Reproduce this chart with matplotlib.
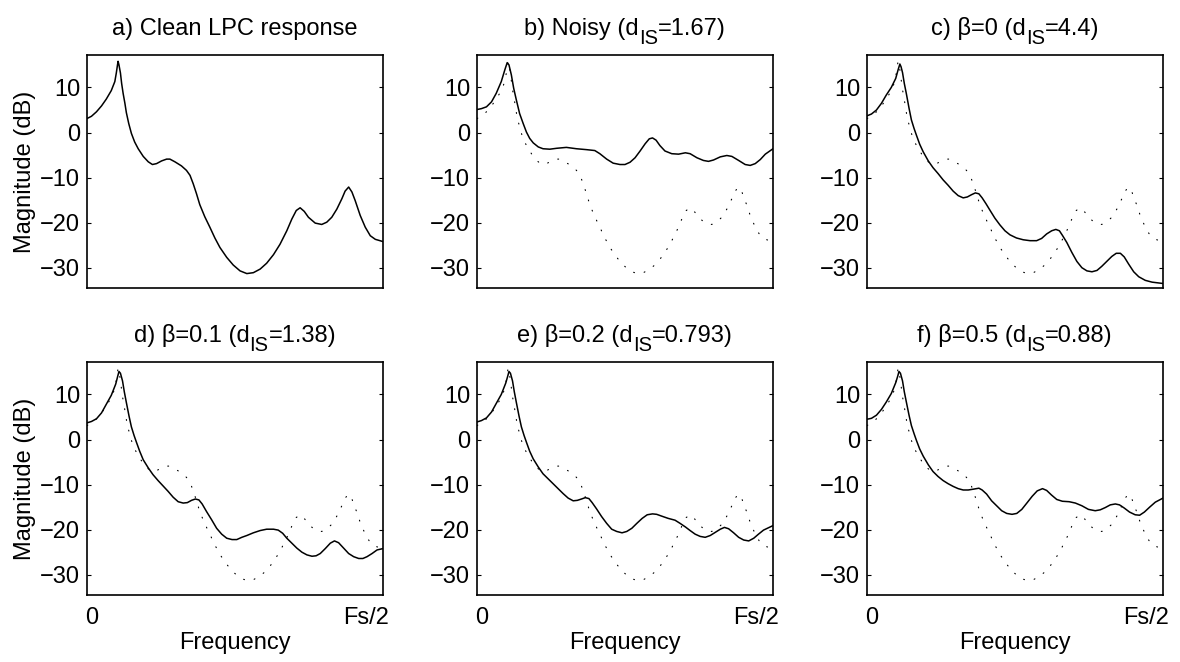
import matplotlib
matplotlib.use("Agg")
import matplotlib.pyplot as plt
from matplotlib.transforms import offset_copy

plt.rcParams['font.family'] = ['Liberation Sans', 'DejaVu Sans']
plt.rcParams['axes.unicode_minus'] = True

# Frequency axis is normalised: 0 = DC, 1 = Fs/2. Magnitudes in dB.
freq_clean = [0, .015, .032, .049, .065, .082, .094, .099, .103, .105, .108, .113, .117, .122,
              .128, .133, .141, .150, .161, .173, .190, .207, .221, .235, .252, .269, .280,
              .297, .319, .336, .348, .359, .370, .381, .398, .415, .432, .449, .472, .494,
              .517, .540, .562, .585, .607, .630, .652, .675, .692, .707, .720, .734, .748,
              .771, .793, .810, .827, .844, .861, .872, .884, .895, .906, .923, .940, .957,
              .974, 1.0]
mag_clean = [3.1, 3.6, 4.6, 5.9, 7.4, 9.3, 11.3, 13.2, 15.0, 15.8, 15.0, 13.2, 10.9, 8.7,
             6.5, 4.4, 2.0, -0.2, -2.1, -3.6, -5.3, -6.5, -7.1, -6.9, -6.3, -5.9, -5.9,
             -6.5, -7.4, -8.4, -9.5, -11.4, -13.6, -16.0, -18.7, -21.0, -23.4, -25.5, -27.7,
             -29.4, -30.7, -31.3, -31.1, -30.3, -29.0, -27.1, -24.8, -21.8, -19.2, -17.3,
             -16.7, -17.5, -18.8, -20.1, -20.4, -19.9, -18.8, -17.0, -14.7, -13.0, -12.1,
             -13.2, -15.1, -18.4, -21.0, -22.9, -23.7, -24.2]

freq_noisy = [0, .015, .032, .049, .065, .082, .094, .102, .108, .116, .124, .133, .144, .156,
              .167, .178, .190, .207, .223, .246, .269, .302, .336, .370, .398, .415, .438,
              .460, .483, .500, .517, .534, .551, .568, .582, .593, .605, .618, .635, .658,
              .681, .704, .720, .743, .765, .782, .799, .822, .844, .861, .884, .906, .923,
              .940, .957, .974, 1.0]
mag_noisy = [5.1, 5.3, 5.7, 6.8, 8.7, 11.3, 13.9, 15.5, 15.0, 12.8, 9.8, 7.2, 4.2, 2.0,
             0.1, -1.3, -2.3, -3.2, -3.6, -3.7, -3.5, -3.3, -3.6, -3.8, -4.0, -4.7, -5.9,
             -6.8, -7.1, -7.1, -6.6, -5.6, -4.1, -2.5, -1.4, -1.2, -1.7, -2.9, -4.1, -4.7,
             -4.8, -4.5, -4.7, -5.6, -6.2, -6.4, -6.1, -5.4, -5.1, -5.3, -6.2, -7.1, -7.3,
             -6.9, -6.0, -4.8, -3.6]

freq_b00 = [0, .015, .032, .049, .065, .082, .097, .105, .111, .115, .120, .126, .133, .142,
            .150, .159, .167, .178, .190, .207, .223, .240, .257, .274, .291, .308, .325,
            .339, .353, .366, .378, .389, .402, .415, .432, .449, .466, .483, .505, .528,
            .551, .573, .590, .607, .624, .638, .650, .661, .675, .692, .709, .726, .743,
            .760, .777, .793, .810, .827, .842, .856, .869, .884, .901, .918, .940, .963, 1.0]
mag_b00 = [3.7, 4.1, 5.0, 6.5, 8.3, 10.0, 12.0, 13.9, 15.2, 14.6, 13.3, 10.9, 8.6, 5.4,
           2.8, 0.9, -0.6, -2.6, -4.3, -6.3, -7.8, -9.1, -10.5, -11.7, -13.0, -14.0, -14.5,
           -14.3, -13.8, -13.4, -13.6, -14.5, -15.8, -17.2, -19.0, -20.5, -21.8, -22.7,
           -23.4, -23.8, -24.0, -24.0, -23.5, -22.5, -21.8, -21.5, -21.8, -22.9, -24.4,
           -26.6, -28.6, -30.0, -30.7, -30.9, -30.6, -29.7, -28.6, -27.5, -26.8, -26.8,
           -27.6, -29.2, -30.9, -32.0, -32.8, -33.2, -33.5]

freq_b01 = [0, .015, .032, .049, .065, .082, .097, .104, .108, .113, .120, .126, .133, .142,
            .150, .159, .167, .178, .190, .207, .223, .240, .257, .274, .291, .308, .325,
            .339, .353, .366, .378, .389, .404, .421, .438, .455, .472, .490, .506, .523,
            .540, .562, .585, .607, .630, .646, .661, .675, .692, .709, .726, .743, .760,
            .774, .788, .805, .822, .836, .850, .867, .884, .901, .918, .932, .946, .963,
            .980, 1.0]
mag_b01 = [3.7, 4.0, 4.6, 5.9, 7.8, 9.8, 12.3, 14.1, 15.1, 14.7, 13.0, 10.6, 8.2, 5.2,
           2.8, 0.9, -0.6, -2.6, -4.5, -6.3, -7.8, -9.1, -10.3, -11.5, -12.8, -13.8, -14.1,
           -14.0, -13.5, -13.2, -13.4, -14.3, -16.0, -17.8, -19.7, -21.0, -21.9, -22.2,
           -22.2, -21.7, -21.3, -20.7, -20.2, -19.9, -19.9, -20.1, -20.8, -21.9, -23.0,
           -24.1, -25.0, -25.6, -25.9, -25.8, -25.3, -24.2, -23.0, -22.5, -22.9, -24.1,
           -25.3, -26.0, -26.4, -26.4, -26.0, -25.3, -24.5, -24.2]

freq_b02 = [0, .015, .032, .049, .065, .082, .097, .104, .108, .113, .120, .126, .133, .142,
            .150, .159, .167, .178, .190, .207, .223, .240, .257, .274, .291, .308, .325,
            .339, .353, .366, .378, .389, .404, .421, .438, .455, .472, .490, .506, .523,
            .540, .558, .575, .593, .607, .624, .646, .669, .686, .704, .720, .737, .754,
            .771, .788, .805, .822, .836, .850, .867, .884, .901, .918, .935, .951, .968, 1.0]
mag_b02 = [3.9, 4.2, 4.8, 6.1, 8.0, 10.0, 12.5, 14.1, 15.1, 14.7, 13.0, 10.6, 8.2, 5.2,
           2.8, 0.9, -0.6, -2.6, -4.3, -6.1, -7.6, -8.7, -9.8, -10.9, -12.0, -13.0, -13.6,
           -13.5, -13.2, -12.9, -13.1, -14.0, -15.4, -17.1, -18.6, -19.9, -20.4, -20.7,
           -20.4, -19.7, -18.6, -17.5, -16.7, -16.5, -16.6, -17.0, -17.5, -17.9, -18.6,
           -19.4, -20.2, -21.0, -21.5, -21.7, -21.3, -20.6, -19.9, -19.5, -19.8, -20.7,
           -21.7, -22.3, -22.5, -21.9, -21.0, -20.1, -19.1]

freq_b05 = [0, .015, .032, .049, .065, .082, .097, .104, .108, .113, .120, .126, .133, .142,
            .150, .159, .167, .178, .190, .207, .223, .240, .257, .274, .291, .308, .325,
            .342, .361, .378, .389, .404, .421, .438, .455, .472, .490, .506, .523, .540,
            .558, .575, .593, .607, .623, .641, .660, .683, .704, .726, .748, .771, .788,
            .805, .822, .839, .853, .869, .887, .906, .921, .937, .955, .974, 1.0]
mag_b05 = [4.5, 4.7, 5.4, 6.7, 8.3, 10.2, 12.6, 14.1, 15.1, 14.7, 13.0, 10.6, 8.3, 5.4,
           3.1, 1.3, -0.2, -2.1, -3.7, -5.6, -7.1, -8.2, -9.1, -9.8, -10.4, -10.9, -11.2,
           -11.2, -11.0, -10.8, -11.2, -12.1, -13.6, -14.7, -15.8, -16.4, -16.6, -16.4,
           -15.5, -14.1, -12.6, -11.4, -10.9, -11.3, -12.3, -13.3, -13.7, -13.8, -14.1,
           -14.7, -15.5, -15.8, -15.6, -15.1, -14.5, -14.3, -14.5, -15.2, -16.1, -16.7,
           -16.8, -16.1, -15.0, -13.9, -13.0]

# Titles as (text, is_subscript) runs
titles = [
    [("a) Clean LPC response", False)],
    [("b) Noisy (d", False), ("IS", True), ("=1.67)", False)],
    [("c) \u03b2=0 (d", False), ("IS", True), ("=4.4)", False)],
    [("d) \u03b2=0.1 (d", False), ("IS", True), ("=1.38)", False)],
    [("e) \u03b2=0.2 (d", False), ("IS", True), ("=0.793)", False)],
    [("f) \u03b2=0.5 (d", False), ("IS", True), ("=0.88)", False)],
]
estimates = [
    (freq_clean, mag_clean),
    (freq_noisy, mag_noisy),
    (freq_b00, mag_b00),
    (freq_b01, mag_b01),
    (freq_b02, mag_b02),
    (freq_b05, mag_b05),
]
y_ticks = [-30, -20, -10, 0, 10]
x_tick_pos = [0.015, 0.943]
x_tick_labels = ["0", "Fs/2"]

FS = 17
SUB_FS = 14.5
SUB_DROP = 6.5   # points
TITLE_GAP = 14.5  # points above the axes

W, H = 1180, 662
fig = plt.figure(figsize=(W / 100, H / 100), dpi=100)
renderer = fig.canvas.get_renderer()


def draw_title(ax, runs):
    texts = []
    widths = []
    for s, is_sub in runs:
        t = ax.text(0, 0, s, fontsize=SUB_FS if is_sub else FS, ha='left',
                    va='baseline', transform=ax.transAxes)
        bb = t.get_window_extent(renderer=renderer)
        texts.append((t, is_sub))
        widths.append(bb.width * 72.0 / fig.dpi)
    total = sum(widths)
    x = -total / 2.0
    for (t, is_sub), w in zip(texts, widths):
        dy = TITLE_GAP - (SUB_DROP if is_sub else 0)
        t.set_position((0.5, 1.0))
        t.set_transform(offset_copy(ax.transAxes, fig=fig, x=x, y=dy, units='points'))
        x += w


lefts = [87, 477, 867]
tops = [55, 362]
aw, ah = 296, 233

for i, (runs, (fx, mag)) in enumerate(zip(titles, estimates)):
    row, col = divmod(i, 3)
    ax = fig.add_axes([lefts[col] / W, 1 - (tops[row] + ah) / H, aw / W, ah / H])
    if i > 0:
        ax.plot(freq_clean, mag_clean, color='black', lw=0.8,
                linestyle=(0, (0.8, 9)), dash_capstyle='round')
    ax.plot(fx, mag, color='black', lw=1.1)
    ax.set_xlim(0, 1)
    ax.set_ylim(-34.5, 17.2)
    ax.set_yticks(y_ticks)
    ax.tick_params(axis='y', direction='in', length=3, width=0.8, right=True,
                   labelsize=FS, pad=5)
    if row == 1:
        ax.set_xticks(x_tick_pos)
        ax.set_xticklabels(x_tick_labels)
        ax.tick_params(axis='x', length=0, labelsize=FS, pad=9)
        ax.set_xlabel("Frequency", fontsize=FS, labelpad=2)
    else:
        ax.set_xticks([])
    if col == 0:
        ax.set_ylabel("Magnitude (dB)", fontsize=FS, labelpad=3)
    for s in ax.spines.values():
        s.set_linewidth(1.2)
    draw_title(ax, runs)

fig.savefig("out.png", dpi=100)
